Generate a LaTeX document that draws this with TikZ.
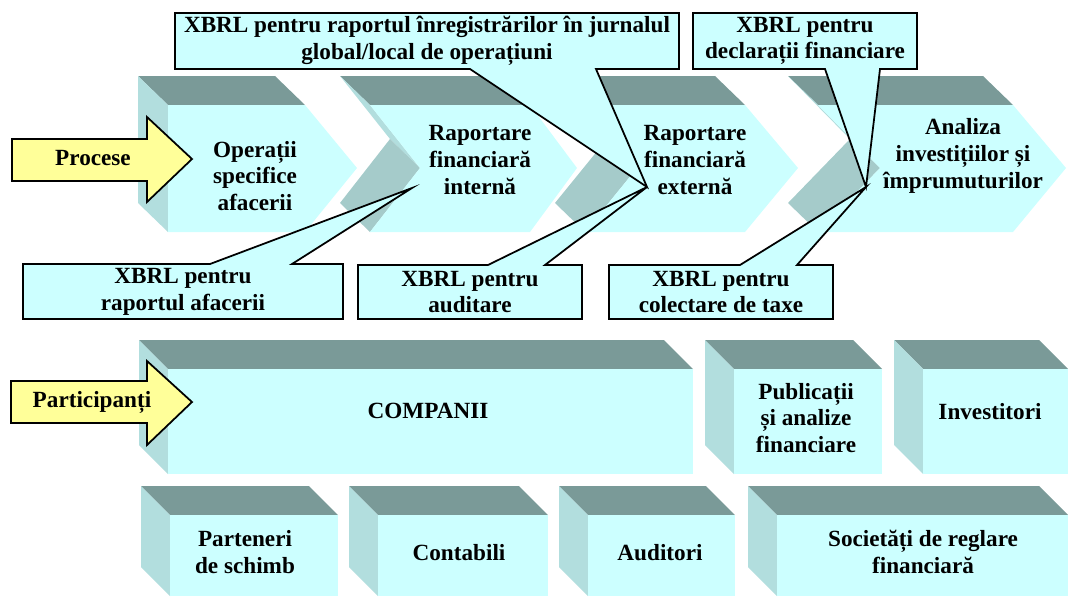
\documentclass[tikz,border=0pt]{standalone}
\usepackage{fontspec}
\setmainfont{Liberation Serif}
\usepackage{xcolor}
\usepackage{tikz}
\usetikzlibrary{positioning}

\definecolor{frontcol}{RGB}{204,255,255}
\definecolor{topcol}{RGB}{122,154,152}
\definecolor{sidecol}{RGB}{178,222,222}
\definecolor{notchcol}{RGB}{165,203,202}
\definecolor{arrowcol}{RGB}{255,255,153}

\begin{document}
\begin{tikzpicture}[x=0.02cm, y=-0.02cm,
  lbl/.style={font=\bfseries\fontsize{13.2}{15.2}\selectfont, align=center, inner sep=0pt},
  callout/.style={draw=black, fill=frontcol, line width=1pt, line join=miter},
  bigarrow/.style={draw=black, fill=arrowcol, line width=1pt, line join=miter}]
% \draw[help lines, dashed, red] (0,0) grid[step=50] (1068,596);
\useasboundingbox (0,0) rectangle (1068,596);

% first chevron, flat left side
\fill[topcol](168,105)--(138,76)--(275,76)--(305,105)--cycle;
\fill[sidecol](168,105)--(138,76)--(138,203)--(168,232)--cycle;
\fill[frontcol](168,105)--(168,232)--(305,232)--(357,168)--(305,105)--cycle;
% notched chevrons
\foreach \a/\n/\p/\q in {370/420/530/577, 585/637/745/798, 818/880/1013/1066}{
  \fill[topcol](\a,105)--(\a-30,76)--(\p-30,76)--(\p,105)--cycle;
  \fill[sidecol](\a,105)--(\a-30,76)--(\n-30,139)--(\n,168)--cycle;
  \fill[notchcol](\n,168)--(\n-30,139)--(\a-30,203)--(\a,232)--cycle;
  \fill[frontcol](\a,105)--(\n,168)--(\a,232)--(\p,232)--(\q,168)--(\p,105)--cycle;
}

% boxes
\foreach \l/\r/\t/\b in {168/693/369/474, 734/882/369/474, 923/1068/369/474,
    170/338/515/596, 378/548/515/596, 588/735/515/596, 777/1068/515/596}{
  \fill[topcol](\l,\t)--(\l-29,\t-29)--(\r-29,\t-29)--(\r,\t)--cycle;
  \fill[sidecol](\l,\t)--(\l-29,\t-29)--(\l-29,\b-29)--(\l,\b)--cycle;
  \fill[frontcol](\l,\t) rectangle (\r,\b);
}

% yellow arrows
\draw[bigarrow](12,139)--(147,139)--(147,117)--(192,159)--(147,202)--(147,181)--(12,181)--cycle;
\draw[bigarrow](11,381)--(147,381)--(147,361)--(192,402)--(147,445)--(147,423)--(11,423)--cycle;
\node[lbl] (procese) at (93,158) {Procese};
\node[lbl] (particip) at (92,402) {Participanți};

% process labels
\node[lbl] (opspec) at (255,176) {Operații\\specifice\\afacerii};
\node[lbl] (rapint) at (480,160) {Raportare\\financiară\\internă};
\node[lbl] (rapext) at (695,160) {Raportare\\financiară\\externă};
\node[lbl] (analiza) at (963,156) {Analiza\\investițiilor și\\împrumuturilor};

% participant labels
\node[lbl] (companii) at (428,411) {COMPANII};
\node[lbl] (publ) at (806,418) {Publicații\\și analize\\financiare};
\node[lbl] (invest) at (990,412) {Investitori};
\node[lbl] (partener) at (245,552) {Parteneri\\de schimb};
\node[lbl] (contab) at (459,553) {Contabili};
\node[lbl] (audit) at (660,553) {Auditori};
\node[lbl] (societ) at (923,552) {Societăți de reglare\\financiară};

% callouts
\coordinate (tipint) at (412,188);
\coordinate (tipext) at (647,187);
\coordinate (tipinv) at (866,187);
\draw[callout](175,13)--(679,13)--(679,69)--(596,69)--(tipext)--(470,69)--(175,69)--cycle;
\draw[callout](693,13)--(917,13)--(917,69)--(880,69)--(tipinv)--(825,69)--(693,69)--cycle;
\draw[callout](23,264)--(210,264)--(tipint)--(292,264)--(343,264)--(343,319)--(23,319)--cycle;
\draw[callout](358,265)--(488,265)--(tipext)--(545,265)--(582,265)--(582,319)--(358,319)--cycle;
\draw[callout](609,265)--(740,265)--(tipinv)--(797,265)--(833,265)--(833,319)--(609,319)--cycle;
\node[lbl] (xjurnal) at (427,41) {XBRL pentru raportul înregistrărilor în jurnalul\\global/local de operațiuni};
\node[lbl] (xdecl) at (805,41) {XBRL pentru\\declarații financiare};
\node[lbl] (xafaceri) at (183,292) {XBRL pentru\\raportul afacerii};
\node[lbl] (xaudit) at (470,292) {XBRL pentru\\auditare};
\node[lbl] (xtaxe) at (721,292) {XBRL pentru\\colectare de taxe};
\end{tikzpicture}
\end{document}
